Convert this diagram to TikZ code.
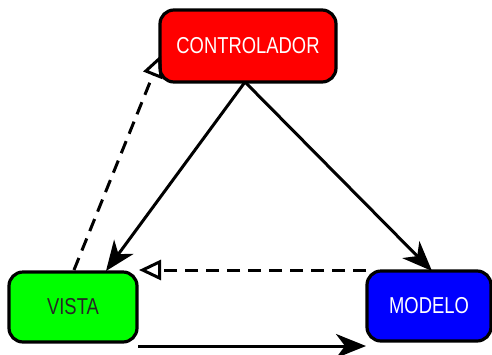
\documentclass[tikz,border=0pt]{standalone}
\usepackage{fontspec}
\setmainfont[FakeStretch=0.8]{Liberation Sans}
\usetikzlibrary{arrows.meta}
\begin{document}
\begin{tikzpicture}[x=1pt,y=-1pt,
  box/.style={draw=black,line width=3.2pt,rounded corners=14pt,inner sep=0pt,font=\fontsize{23}{26}\selectfont},
  solidarrow/.style={line width=3pt,-{Stealth[length=30pt,width=24pt,inset=9pt]}},
  dasharrow/.style={line width=3pt,dash pattern=on 13pt off 8pt,-{Triangle[open,length=22pt,width=20pt,line width=3pt]}}]
\useasboundingbox (0,0) rectangle (492,354);
\node[box,fill=red,text=white,minimum width=176pt,minimum height=72pt] (c) at (248,46) {CONTROLADOR};
\node[box,fill=green,text=black!85,minimum width=128pt,minimum height=70pt] (v) at (73,307) {VISTA};
\node[box,fill=blue,text=white,minimum width=124pt,minimum height=70pt] (m) at (429,306) {MODELO};
\coordinate (c1) at (245,82);
\coordinate (vt) at (106,271);
\coordinate (mt) at (432,271);
\coordinate (vs) at (74,270);
\coordinate (cl) at (161,55);
\coordinate (ms) at (366,270);
\coordinate (ve) at (139,270);
\coordinate (vb) at (138,346);
\coordinate (me) at (366,346);
\draw[solidarrow] (c1) -- (vt);
\draw[solidarrow] (c1) -- (mt);
\draw[dasharrow] (vs) -- (cl);
\draw[dasharrow] (ms) -- (ve);
\draw[solidarrow] (vb) -- (me);
\end{tikzpicture}
\end{document}
